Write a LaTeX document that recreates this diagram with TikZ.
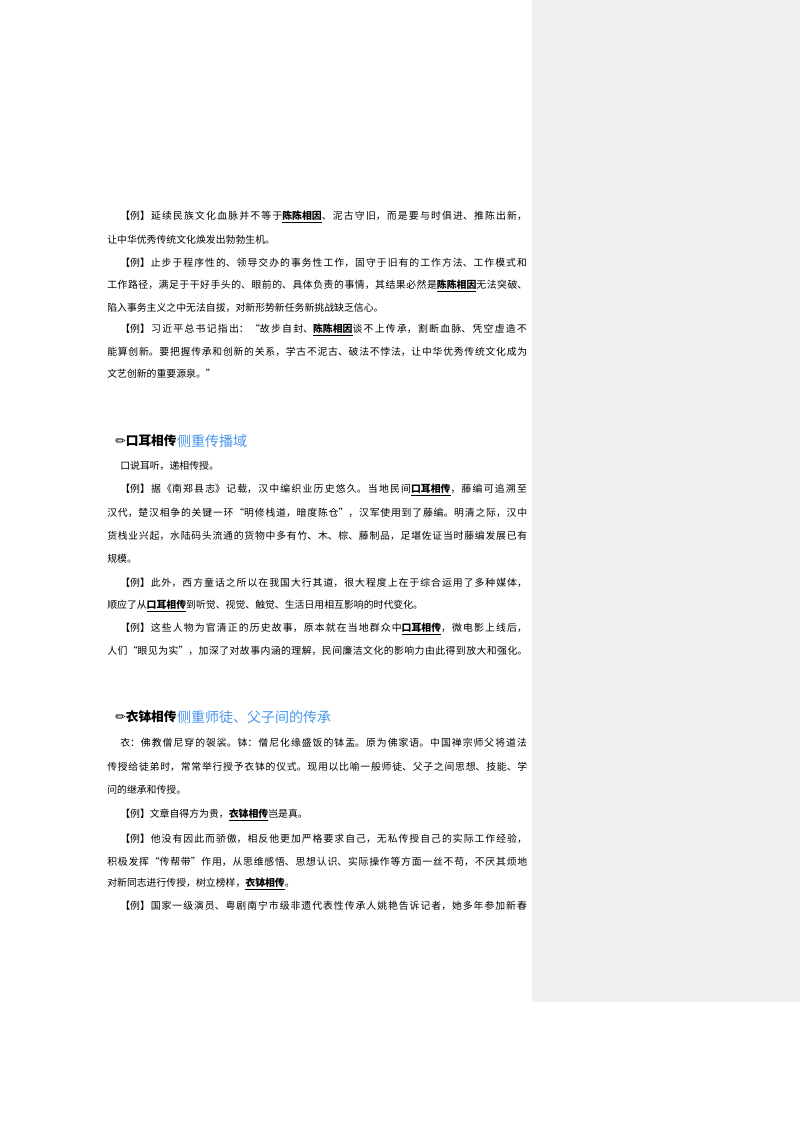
\documentclass[tikz,border=0pt]{standalone}
\usepackage{fontspec}
\setmainfont{Noto Sans CJK SC}
\newfontfamily\sym{DejaVu Sans}
\newcommand{\JLfull}[1]{\parbox{315pt}{\XeTeXlinebreaklocale "zh"\XeTeXlinebreakskip=0pt plus 4pt minus 0.3pt\parfillskip=0pt\noindent #1}}
\newcommand{\JLind}[1]{\parbox{305pt}{\XeTeXlinebreaklocale "zh"\XeTeXlinebreakskip=0pt plus 4pt minus 0.3pt\parfillskip=0pt\noindent #1}}
\newcommand{\kw}[1]{\underline{\textbf{#1}}}
\definecolor{hand}{RGB}{70,150,235}
\tikzset{
  ln/.style={anchor=west,inner sep=0pt,font=\fontsize{7.4pt}{9pt}\selectfont},
  hd/.style={anchor=west,inner sep=0pt,font=\fontsize{9.5pt}{11pt}\selectfont\bfseries},
  hw/.style={anchor=west,inner sep=0pt,text=hand,font=\fontsize{10.5pt}{12pt}\selectfont}
}
\begin{document}
\begin{tikzpicture}[x=0.75pt,y=-0.75pt]
\useasboundingbox (0,0) rectangle (800,1132);
\fill[black!6] (532,0) rectangle (800,1002);
\node[ln] (a1) at (120,217) {\JLind{【例】延续民族文化血脉并不等于\kw{陈陈相因}、泥古守旧，而是要与时俱进、推陈出新，}};
\node[ln] (a2) at (107,240) {让中华优秀传统文化焕发出勃勃生机。};
\node[ln] (b1) at (120,263) {\JLind{【例】止步于程序性的、领导交办的事务性工作，固守于旧有的工作方法、工作模式和}};
\node[ln] (b2) at (107,286) {\JLfull{工作路径，满足于干好手头的、眼前的、具体负责的事情，其结果必然是\kw{陈陈相因}无法突破、}};
\node[ln] (b3) at (107,308) {陷入事务主义之中无法自拔，对新形势新任务新挑战缺乏信心。};
\node[ln] (c1) at (120,330) {\JLind{【例】习近平总书记指出：“故步自封、\kw{陈陈相因}谈不上传承，割断血脉、凭空虚造不}};
\node[ln] (c2) at (107,352) {\JLfull{能算创新。要把握传承和创新的关系，学古不泥古、破法不悖法，让中华优秀传统文化成为}};
\node[ln] (c3) at (107,374) {文艺创新的重要源泉。”};
\node[hd] (h1) at (115,441) {{\sym ✏}口耳相传};
\node[hw,anchor=west] (h1n) at (h1.east) {侧重传播域};
\node[ln] (d0) at (120,466) {口说耳听，递相传授。};
\node[ln] (d1) at (120,490) {\JLind{【例】据《南郑县志》记载，汉中编织业历史悠久。当地民间\kw{口耳相传}，藤编可追溯至}};
\node[ln] (d2) at (107,513) {\JLfull{汉代，楚汉相争的关键一环“明修栈道，暗度陈仓”，汉军使用到了藤编。明清之际，汉中}};
\node[ln] (d3) at (107,536) {\JLfull{货栈业兴起，水陆码头流通的货物中多有竹、木、棕、藤制品，足堪佐证当时藤编发展已有}};
\node[ln] (d4) at (107,559) {规模。};
\node[ln] (e1) at (120,583) {\JLind{【例】此外，西方童话之所以在我国大行其道，很大程度上在于综合运用了多种媒体，}};
\node[ln] (e2) at (107,606) {顺应了从\kw{口耳相传}到听觉、视觉、触觉、生活日用相互影响的时代变化。};
\node[ln] (f1) at (120,629) {\JLind{【例】这些人物为官清正的历史故事，原本就在当地群众中\kw{口耳相传}，微电影上线后，}};
\node[ln] (f2) at (107,651) {\JLfull{人们“眼见为实”，加深了对故事内涵的理解，民间廉洁文化的影响力由此得到放大和强化。}};
\node[hd] (h2) at (115,717) {{\sym ✏}衣钵相传};
\node[hw,anchor=west] (h2n) at (h2.east) {侧重师徒、父子间的传承};
\node[ln] (g1) at (120,743) {\JLind{衣：佛教僧尼穿的袈裟。钵：僧尼化缘盛饭的钵盂。原为佛家语。中国禅宗师父将道法}};
\node[ln] (g2) at (107,767) {\JLfull{传授给徒弟时，常常举行授予衣钵的仪式。现用以比喻一般师徒、父子之间思想、技能、学}};
\node[ln] (g3) at (107,790) {问的继承和传授。};
\node[ln] (i1) at (120,815) {【例】文章自得方为贵，\kw{衣钵相传}岂是真。};
\node[ln] (j1) at (120,839) {\JLind{【例】他没有因此而骄傲，相反他更加严格要求自己，无私传授自己的实际工作经验，}};
\node[ln] (j2) at (107,862) {\JLfull{积极发挥“传帮带”作用，从思维感悟、思想认识、实际操作等方面一丝不苟，不厌其烦地}};
\node[ln] (j3) at (107,884) {对新同志进行传授，树立榜样，\kw{衣钵相传}。};
\node[ln] (k1) at (120,906) {\JLind{【例】国家一级演员、粤剧南宁市级非遗代表性传承人姚艳告诉记者，她多年参加新春}};
\end{tikzpicture}
\end{document}
